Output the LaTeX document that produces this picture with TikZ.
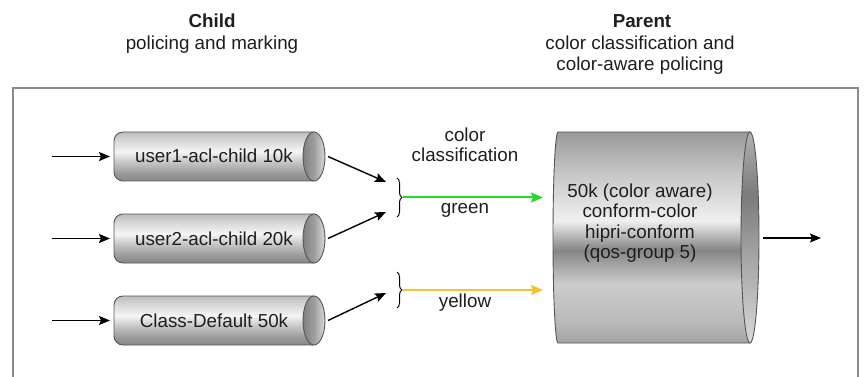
\documentclass[tikz,border=0pt]{standalone}
\usepackage{fontspec}
\setmainfont{Liberation Sans}
\usetikzlibrary{arrows.meta,decorations.pathreplacing}
\definecolor{txt}{HTML}{1E1E1E}
\definecolor{frame}{HTML}{8A8A8A}
\definecolor{cylline}{HTML}{555555}
\definecolor{greenarr}{HTML}{22DD22}
\definecolor{yellowarr}{HTML}{F0C330}
\pgfdeclareverticalshading{smallbody}{100bp}{gray(0bp)=(0.53); gray(25bp)=(0.53); gray(32.5bp)=(0.6); gray(44bp)=(0.77); gray(55bp)=(0.96); gray(67.5bp)=(0.83); gray(75bp)=(0.74); gray(100bp)=(0.74)}
\pgfdeclareverticalshading{bigbody}{100bp}{gray(0bp)=(0.64); gray(25bp)=(0.64); gray(30bp)=(0.73); gray(39bp)=(0.8); gray(47bp)=(0.52); gray(54bp)=(0.94); gray(65bp)=(0.78); gray(75bp)=(0.6); gray(100bp)=(0.6)}
\pgfdeclarehorizontalshading{smallface}{100bp}{gray(0bp)=(0.5); gray(25bp)=(0.5); gray(50bp)=(0.62); gray(75bp)=(0.85); gray(100bp)=(0.85)}
\pgfdeclareverticalshading{bigface}{100bp}{gray(0bp)=(0.85); gray(25bp)=(0.85); gray(45bp)=(0.65); gray(60bp)=(0.48); gray(75bp)=(0.7); gray(100bp)=(0.7)}
\newcommand\mysmallcyl[1]{%
  \path[shading=smallbody] (314,#1-24.5) -- (123,#1-24.5)
    arc[start angle=-90,end angle=-180,radius=9] -- (114,#1+15.5)
    arc[start angle=-180,end angle=-270,radius=9] -- (314,#1+24.5) -- cycle;
  \draw[cylline,line width=0.9pt] (314,#1-24.5) -- (123,#1-24.5)
    arc[start angle=-90,end angle=-180,radius=9] -- (114,#1+15.5)
    arc[start angle=-180,end angle=-270,radius=9] -- (314,#1+24.5);
  \path[shading=smallface] (314,#1) ellipse[x radius=11,y radius=24.5];
  \draw[cylline,line width=0.9pt] (314,#1) ellipse[x radius=11,y radius=24.5];
}
\begin{document}
\begin{tikzpicture}[x=1pt,y=-1pt,
  every node/.style={text=txt,font=\fontsize{18.8}{21}\selectfont,inner sep=0pt},
  lbl/.style={anchor=base,align=center},
  arr/.style={line width=1.4pt,-{Stealth[length=11pt,width=9pt,inset=2pt]}},
  colarr/.style={line width=2pt,-{Stealth[length=12pt,width=10pt,inset=2pt]}},
  brc/.style={line width=1pt,decorate,decoration={brace,amplitude=5pt}}]
\useasboundingbox (0,0) rectangle (868,377);
\fill[white] (0,0) rectangle (868,377);
% frame
\draw[frame,line width=1.4pt] (13,380) -- (13,88) -- (858,88) -- (858,380);
% headers
\node[lbl,font=\bfseries\fontsize{18.8}{21}\selectfont] (hchild) at (212,28) {Child};
\node[lbl] (hchild2) at (212,50) {policing and marking};
\node[lbl,font=\bfseries\fontsize{18.8}{21}\selectfont] (hpar) at (642,28) {Parent};
\node[lbl] (hpar2) at (640,50) {color classification and};
\node[lbl] (hpar3) at (640,71) {color-aware policing};
% small cylinders
\mysmallcyl{156.5}
\mysmallcyl{238.5}
\mysmallcyl{320.5}
\node[lbl] (c1) at (214,163) {user1-acl-child 10k};
\node[lbl] (c2) at (214,245) {user2-acl-child 20k};
\node[lbl] (c3) at (214,327) {Class-Default 50k};
% big cylinder
\path[shading=bigbody] (750,132) -- (558,132)
  arc[start angle=-90,end angle=-270,x radius=5,y radius=105.5] -- (750,343) -- cycle;
\draw[cylline,line width=0.9pt] (750,132) -- (558,132)
  arc[start angle=-90,end angle=-270,x radius=5,y radius=105.5] -- (750,343);
\path[shading=bigface] (750,237.5) ellipse[x radius=9,y radius=105.5];
\draw[cylline,line width=0.9pt] (750,237.5) ellipse[x radius=9,y radius=105.5];
\node[lbl] (p1) at (640,197) {50k (color aware)};
\node[lbl] (p2) at (640,218) {conform-color};
\node[lbl] (p3) at (640,238) {hipri-conform};
\node[lbl] (p4) at (640,258) {(qos-group 5)};
% coordinates
\coordinate (in1) at (52,156.5); \coordinate (c1w) at (110,156.5);
\coordinate (in2) at (52,238.5); \coordinate (c2w) at (110,238.5);
\coordinate (in3) at (52,320.5); \coordinate (c3w) at (110,320.5);
\coordinate (c1e) at (328,156.5);
\coordinate (c2e) at (328,238.5);
\coordinate (c3e) at (328,320.5);
\coordinate (b1a) at (386,182); \coordinate (b1b) at (386,212);
\coordinate (b2a) at (386,293);
\coordinate (b1t) at (397,178); \coordinate (b1u) at (397,217);
\coordinate (b2t) at (397,272); \coordinate (b2u) at (397,308);
\coordinate (g0) at (403,197.5); \coordinate (g1) at (543,197.5);
\coordinate (y0) at (403,290); \coordinate (y1) at (543,290);
\coordinate (pout) at (763,238); \coordinate (pend) at (821,238);
% arrows
\draw[arr] (in1) -- (c1w);
\draw[arr] (in2) -- (c2w);
\draw[arr] (in3) -- (c3w);
\draw[arr] (c1e) -- (b1a);
\draw[arr] (c2e) -- (b1b);
\draw[arr] (c3e) -- (b2a);
\draw[brc] (b1t) -- (b1u);
\draw[brc] (b2t) -- (b2u);
\draw[colarr,draw=greenarr,fill=greenarr] (g0) -- (g1);
\draw[colarr,draw=yellowarr,fill=yellowarr] (y0) -- (y1);
\draw[arr] (pout) -- (pend);
% middle labels
\node[lbl] (cc1) at (465,141.5) {color};
\node[lbl] (cc2) at (465,162) {classification};
\node[lbl] (lg) at (465,213) {green};
\node[lbl] (ly) at (465,307) {yellow};
\end{tikzpicture}
\end{document}
